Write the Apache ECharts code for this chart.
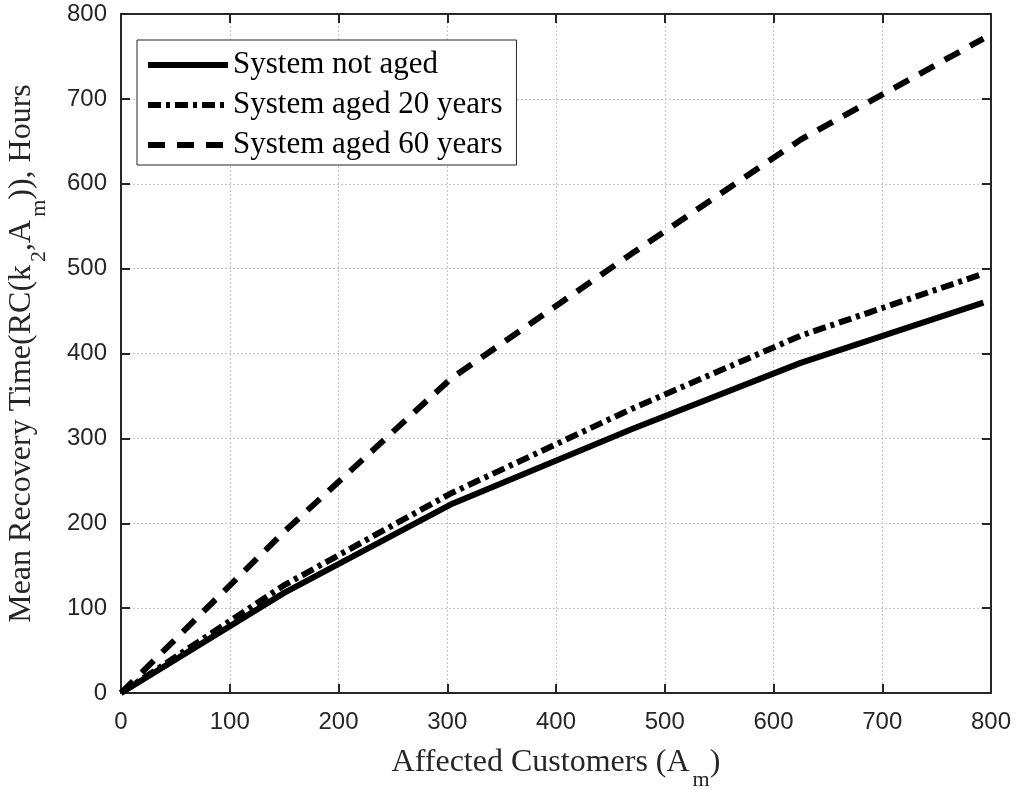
<!DOCTYPE html>
<html>
<head>
<meta charset="utf-8">
<script src="https://cdn.jsdelivr.net/npm/echarts@6/dist/echarts.min.js"></script>
<style>
  html, body { margin: 0; padding: 0; background: #fff; }
  #chart { width: 1016px; height: 790px; }
</style>
</head>
<body>
<div id="chart"></div>
<script>
// Affected customers at each computed point
const affected = [0, 150, 303, 470, 625, 793];
// Mean recovery time in hours for each system age
const notAged = [0, 118, 222, 311, 389, 460];
const aged20 = [0, 127, 235, 335, 421, 494];
const aged60 = [0, 190, 370, 518, 652, 771];
const seriesNames = ['System not aged', 'System aged 20 years', 'System aged 60 years'];
const axisTicks = [0, 100, 200, 300, 400, 500, 600, 700, 800];

const ink = '#262626';
const serif = 'Liberation Serif, Times New Roman, serif';
const sans = 'Liberation Sans, Arial, sans-serif';
const lineW = 6;

function pairs(ys) {
  return affected.map((x, i) => [x, ys[i]]);
}

const nameRich = {
  n: { fontFamily: serif, fontSize: 32, color: ink, lineHeight: 34, verticalAlign: 'top' },
  s: { fontFamily: serif, fontSize: 22, color: ink, lineHeight: 67, padding: [0, 0, 0, 3] }
};

const baseAxis = {
  min: axisTicks[0],
  max: axisTicks[axisTicks.length - 1],
  interval: axisTicks[1] - axisTicks[0],
  axisLine: { show: true, onZero: false, lineStyle: { color: ink, width: 2 } },
  axisTick: { show: true, inside: true, length: 9, lineStyle: { color: ink, width: 2 } }
};

const chart = echarts.init(document.getElementById('chart'), null, { renderer: 'canvas' });

chart.setOption({
  animation: false,
  backgroundColor: '#fff',
  grid: { left: 121, right: 25, top: 14, bottom: 97, containLabel: false, outerBoundsMode: 'none' },
  legend: {
    orient: 'vertical',
    left: 137,
    top: 40,
    padding: [5, 14, 0, 8],
    itemGap: 0,
    itemWidth: 80,
    itemHeight: 24,
    backgroundColor: '#fff',
    borderColor: ink,
    borderWidth: 1,
    itemStyle: { color: 'rgba(0,0,0,0)', borderWidth: 0, opacity: 0 },
    lineStyle: { width: lineW },
    textStyle: { fontFamily: serif, fontSize: 31, color: '#000', lineHeight: 40 },
    data: seriesNames
  },
  xAxis: [
    Object.assign({}, baseAxis, {
      type: 'value',
      position: 'bottom',
      name: '{n|Affected Customers (A}{s|m}{n|)}',
      nameLocation: 'middle',
      nameGap: 54,
      nameTextStyle: { rich: nameRich },
      axisLabel: { show: true, margin: 17, fontFamily: sans, fontSize: 24, color: ink },
      splitLine: { show: true, lineStyle: { color: '#c4c4c4', width: 1, type: [2, 2] } }
    }),
    Object.assign({}, baseAxis, {
      type: 'value',
      position: 'top',
      axisLabel: { show: false },
      splitLine: { show: false }
    })
  ],
  yAxis: [
    Object.assign({}, baseAxis, {
      type: 'value',
      position: 'left',
      name: '{n|Mean Recovery Time(RC(k}{s|2}{n|,A}{s|m}{n|)), Hours}',
      nameLocation: 'middle',
      nameGap: 48,
      nameTextStyle: { rich: nameRich },
      axisLabel: { show: true, margin: 14, fontFamily: sans, fontSize: 24, color: ink },
      splitLine: { show: true, lineStyle: { color: '#c4c4c4', width: 1, type: [2, 2] } }
    }),
    Object.assign({}, baseAxis, {
      type: 'value',
      position: 'right',
      axisLabel: { show: false },
      splitLine: { show: false }
    })
  ],
  series: [
    {
      name: seriesNames[0],
      type: 'line',
      data: pairs(notAged),
      symbol: 'none',
      lineStyle: { color: '#000', width: lineW, type: 'solid' },
      itemStyle: { color: '#000' },
      z: 3
    },
    {
      name: seriesNames[1],
      type: 'line',
      data: pairs(aged20),
      symbol: 'none',
      lineStyle: { color: '#000', width: lineW, type: [13, 5, 4, 5] },
      itemStyle: { color: '#000' },
      z: 3
    },
    {
      name: seriesNames[2],
      type: 'line',
      data: pairs(aged60),
      symbol: 'none',
      lineStyle: { color: '#000', width: lineW, type: [17, 12] },
      itemStyle: { color: '#000' },
      z: 3
    }
  ]
});
</script>
</body>
</html>
